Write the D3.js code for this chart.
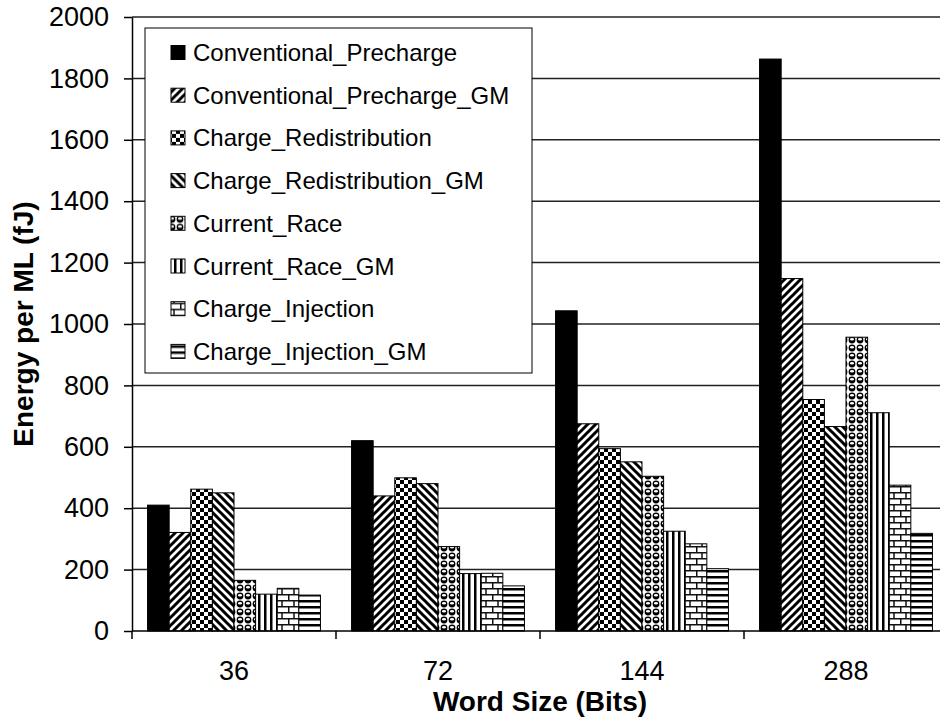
<!DOCTYPE html>
<html>
<head>
<meta charset="utf-8">
<script src="https://cdn.jsdelivr.net/npm/d3@7"></script>
<style>
  body { margin: 0; background: #fff; }
  text { font-family: Arial, "Liberation Sans", sans-serif; fill: #000; }
</style>
</head>
<body>
<svg id="chart" width="940" height="721"></svg>
<script>
const categories = ["36", "72", "144", "288"]
const seriesNames = [
    "Conventional_Precharge",
    "Conventional_Precharge_GM",
    "Charge_Redistribution",
    "Charge_Redistribution_GM",
    "Current_Race",
    "Current_Race_GM",
    "Charge_Injection",
    "Charge_Injection_GM"
]
const conventionalPrecharge = [410, 620, 1043, 1863]
const conventionalPrechargeGM = [321, 440, 675, 1148]
const chargeRedistribution = [462, 499, 594, 754]
const chargeRedistributionGM = [450, 480, 551, 666]
const currentRace = [165, 275, 504, 957]
const currentRaceGM = [120, 187, 325, 711]
const chargeInjection = [139, 188, 284, 475]
const chargeInjectionGM = [117, 147, 203, 318]
const yTicks = [0, 200, 400, 600, 800, 1000, 1200, 1400, 1600, 1800, 2000]

const seriesValues = [conventionalPrecharge, conventionalPrechargeGM, chargeRedistribution,
    chargeRedistributionGM, currentRace, currentRaceGM, chargeInjection, chargeInjectionGM]

const width = 940, height = 721
const margin = { left: 132, right: -8, top: 17, bottom: 90 }

const svg = d3.select("#chart")
svg.append("rect").attr("width", width).attr("height", height).attr("fill", "#fff")

// fill patterns, close to the Excel ones
const defs = svg.append("defs")
function pattern(id, w, h, draw) {
    const p = defs.append("pattern").attr("id", id)
        .attr("patternUnits", "userSpaceOnUse")
        .attr("width", w).attr("height", h)
    p.append("rect").attr("width", w).attr("height", h).attr("fill", "#fff")
    draw(p)
}
pattern("upDiag", 8, 8, p => p.append("path")
    .attr("d", "M-2,2 l4,-4 M0,8 l8,-8 M6,10 l4,-4")
    .attr("stroke", "#000").attr("stroke-width", 3))
pattern("checker", 8, 8, p => {
    p.append("rect").attr("x", 0).attr("y", 0).attr("width", 4).attr("height", 4).attr("fill", "#000")
    p.append("rect").attr("x", 4).attr("y", 4).attr("width", 4).attr("height", 4).attr("fill", "#000")
})
pattern("downDiag", 8, 8, p => p.append("path")
    .attr("d", "M-2,6 l4,4 M0,0 l8,8 M6,-2 l4,4")
    .attr("stroke", "#000").attr("stroke-width", 3))
pattern("sphere", 8, 8, p => {
    p.append("circle").attr("cx", 4).attr("cy", 4).attr("r", 3.4).attr("fill", "#000")
    p.append("ellipse").attr("cx", 4).attr("cy", 3.2).attr("rx", 2).attr("ry", 1.2).attr("fill", "#fff")
})
pattern("vert", 6, 6, p => p.append("rect")
    .attr("x", 0).attr("width", 2.5).attr("height", 6).attr("fill", "#000"))
pattern("brick", 12, 12, p => p.append("path")
    .attr("d", "M0,0.75 H12 M0,6.75 H12 M6,0 V6.75 M0.75,6.75 V12")
    .attr("stroke", "#111").attr("stroke-width", 1.5).attr("fill", "none"))
pattern("horiz", 6, 6, p => p.append("rect")
    .attr("y", 0).attr("width", 6).attr("height", 2.5).attr("fill", "#000"))

const fills = ["#000", "url(#upDiag)", "url(#checker)", "url(#downDiag)",
    "url(#sphere)", "url(#vert)", "url(#brick)", "url(#horiz)"]
const color = d3.scaleOrdinal(seriesNames, fills)

const x0 = d3.scaleBand()
    .domain(categories)
    .range([margin.left, width - margin.right])
const x1 = d3.scaleBand()
    .domain(seriesNames)
    .range([0, x0.bandwidth()])
    .paddingInner(0)
    .paddingOuter(0.72)
const y = d3.scaleLinear()
    .domain([0, 2000])
    .range([height - margin.bottom, margin.top])

// gridlines
svg.append("g")
    .selectAll("line")
    .data(yTicks.filter(d => d > 0))
    .join("line")
        .attr("x1", margin.left).attr("x2", width)
        .attr("y1", d => y(d)).attr("y2", d => y(d))
        .attr("stroke", "#222").attr("stroke-width", 1.5)

// bars
const groups = svg.append("g")
    .selectAll("g")
    .data(categories)
    .join("g")
        .attr("transform", d => `translate(${x0(d)},0)`)
groups.selectAll("rect")
    .data((c, i) => seriesNames.map((s, j) => ({ series: s, value: seriesValues[j][i] })))
    .join("rect")
        .attr("x", d => x1(d.series))
        .attr("y", d => y(d.value))
        .attr("width", x1.bandwidth())
        .attr("height", d => y(0) - y(d.value))
        .attr("fill", d => color(d.series))
        .attr("stroke", "#000")
        .attr("stroke-width", 1)

// y axis
const yAxis = svg.append("g")
    .attr("transform", `translate(${margin.left},0)`)
    .call(d3.axisLeft(y).tickValues(yTicks).tickFormat(d3.format("d"))
        .tickSize(8).tickPadding(15).tickSizeOuter(0))
yAxis.select(".domain").attr("stroke", "#000").attr("stroke-width", 1.5)
yAxis.selectAll(".tick line").attr("stroke", "#000").attr("stroke-width", 1.5)
yAxis.selectAll(".tick text")
    .attr("font-size", 27)
    .attr("font-family", "Arial, 'Liberation Sans', sans-serif")
    .attr("fill", "#000")

// x axis: ticks on the category boundaries, labels in the middle
const xAxisG = svg.append("g")
xAxisG.append("line")
    .attr("x1", margin.left).attr("x2", width)
    .attr("y1", y(0)).attr("y2", y(0))
    .attr("stroke", "#000").attr("stroke-width", 1.5)
xAxisG.selectAll("line.tick")
    .data(categories)
    .join("line")
        .attr("class", "tick")
        .attr("x1", d => x0(d)).attr("x2", d => x0(d))
        .attr("y1", y(0)).attr("y2", y(0) + 8)
        .attr("stroke", "#000").attr("stroke-width", 1.5)
xAxisG.selectAll("text")
    .data(categories)
    .join("text")
        .attr("x", d => x0(d) + x0.bandwidth() / 2)
        .attr("y", 680)
        .attr("text-anchor", "middle")
        .attr("font-size", 27)
        .text(d => d)

// axis titles
svg.append("text")
    .attr("x", (margin.left + width - margin.right) / 2)
    .attr("y", 711)
    .attr("text-anchor", "middle")
    .attr("font-size", 28)
    .attr("font-weight", "bold")
    .text("Word Size (Bits)")
svg.append("text")
    .attr("transform", `translate(33,${(y(0) + y(2000)) / 2}) rotate(-90)`)
    .attr("text-anchor", "middle")
    .attr("font-size", 28)
    .attr("font-weight", "bold")
    .text("Energy per ML (fJ)")

// legend
const legend = svg.append("g")
legend.append("rect")
    .attr("x", 145).attr("y", 28)
    .attr("width", 387).attr("height", 345)
    .attr("fill", "#fff").attr("stroke", "#000").attr("stroke-width", 1)
const item = legend.selectAll("g.item")
    .data(seriesNames)
    .join("g")
        .attr("class", "item")
        .attr("transform", (d, i) => `translate(0,${52.5 + i * 42.7})`)
item.append("rect")
    .attr("x", 171).attr("y", -7)
    .attr("width", 14).attr("height", 14)
    .attr("fill", d => color(d))
    .attr("stroke", "#000").attr("stroke-width", 1)
item.append("text")
    .attr("x", 193)
    .attr("y", 8.5)
    .attr("font-size", 24)
    .text(d => d)
</script>
</body>
</html>
